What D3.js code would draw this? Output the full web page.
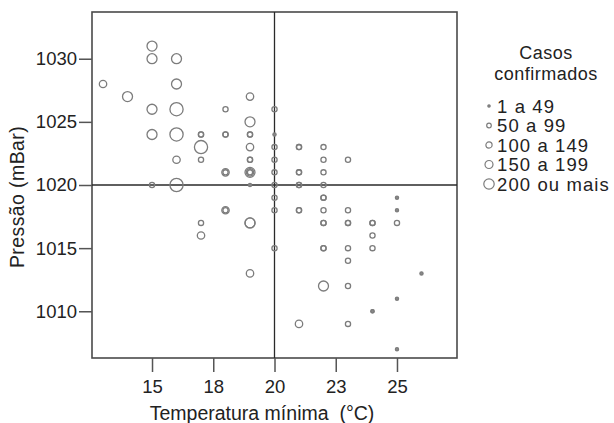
<!DOCTYPE html>
<html><head><meta charset="utf-8">
<script src="https://cdn.jsdelivr.net/npm/d3@7"></script>
<style>
html,body{margin:0;padding:0;background:#fff;}
svg{display:block;font-family:"Liberation Sans",Arial,sans-serif;}
</style></head>
<body>
<svg id="chart" width="614" height="423"></svg>
<script>
// Data: each observation = (minimum temperature, pressure, case class 1..5)
const temperature = [
  13,14,15,15,16,16,15,16,15,16,17,16,16,17,17,17,18,18,18,18,18,
  19,19,19,19,19,19,19,19,19,19,19,19,15,
  20,20,20,20,20,20,20,20,20,
  21,21,21,21,21,21,21,21,21,
  22,22,22,22,22,22,22,22,22,22,22,22,
  23,23,23,23,23,23,23,23,
  24,24,24,24,24,24,
  25,25,25,25,25,26,
  19,19,17,17,18,18
];
const pressure = [
  1028,1027,1031,1030,1030,1028,1026,1026,1024,1024,1023,1022,1020,1024,1024,1022,1026,1024,1024,1021,1021,
  1027,1025,1024,1024,1023,1022,1022,1021,1021,1021,1020,1017,1020,
  1026,1024,1023,1022,1021,1020,1019,1018,1015,
  1023,1023,1021,1021,1020,1020,1018,1009,1018,
  1023,1022,1021,1020,1019,1019,1018,1017,1017,1015,1015,1012,
  1022,1018,1017,1015,1014,1012,1009,1017,
  1017,1017,1016,1015,1010,1010,
  1019,1018,1017,1011,1007,1013,
  1013,1017,1017,1016,1018,1018
];
const caseClass = [
  3,4,4,4,4,4,4,5,4,5,5,3,5,2,2,2,2,2,2,3,2,
  3,4,2,2,3,2,2,4,3,2,1,4,2,
  2,1,2,2,2,2,2,2,2,
  2,2,2,2,2,2,2,3,2,
  2,2,2,2,2,2,2,2,2,2,2,4,
  2,2,2,2,2,2,2,2,
  2,2,2,2,1,1,
  1,1,2,1,1,1,
  3,4,2,3,3,2
];
const legendLabels = ["1 a 49","50 a 99","100 a 149","150 a 199","200 ou mais"];
const legendTitle = ["Casos","confirmados"];
const xTicks = [15,17.5,20,22.5,25];
const xTickLabels = ["15","18","20","23","25"];
const yTicks = [1010,1015,1020,1025,1030];
const refTemp = 20, refPressure = 1020;

const svg = d3.select("#chart");
const L=92, R=457, T=12, B=358;
const x = d3.scaleLinear().domain([12.55,27.45]).range([L,R]);
const y = d3.scaleLinear().domain([1006.3,1033.7]).range([B,T]);
const r = d3.scaleOrdinal().domain([1,2,3,4,5]).range([1.6,2.6,3.7,5,6.6]);
const legendR = d3.scaleOrdinal().domain([1,2,3,4,5]).range([1.2,2.3,3.1,4,5.2]);

// frame
svg.append("rect").attr("x",L).attr("y",T).attr("width",R-L).attr("height",B-T)
  .attr("fill","none").attr("stroke","#4a4a4a").attr("stroke-width",1.6);

// reference lines
svg.append("line").attr("x1",x(refTemp)).attr("x2",x(refTemp)).attr("y1",T).attr("y2",B)
  .attr("stroke","#2a2a2a").attr("stroke-width",1.3);
svg.append("line").attr("x1",L).attr("x2",R).attr("y1",y(refPressure)).attr("y2",y(refPressure))
  .attr("stroke","#2a2a2a").attr("stroke-width",1.3);

// axes
const xAxis = d3.axisBottom(x).tickValues(xTicks).tickFormat((d,i)=>xTickLabels[i]).tickSize(14).tickSizeOuter(0).tickPadding(8);
const gx = svg.append("g").attr("transform",`translate(0,${B})`).call(xAxis);
gx.select(".domain").remove();
gx.selectAll("line").attr("stroke","#555").attr("stroke-width",1.5);
gx.selectAll("text").attr("font-size",18.5).attr("fill","#222").attr("font-family","Liberation Sans, Arial, sans-serif");

const yAxis = d3.axisLeft(y).tickValues(yTicks).tickFormat(d3.format("d")).tickSize(13).tickSizeOuter(0).tickPadding(2);
const gy = svg.append("g").attr("transform",`translate(${L},0)`).call(yAxis);
gy.select(".domain").remove();
gy.selectAll("line").attr("stroke","#555").attr("stroke-width",1.5);
gy.selectAll("text").attr("font-size",18.5).attr("fill","#222").attr("font-family","Liberation Sans, Arial, sans-serif");

// axis titles
svg.append("text").attr("x",262).attr("y",420).attr("text-anchor","middle")
  .style("white-space","pre")
  .attr("font-size",19.5).attr("fill","#222").text("Temperatura mínima  (°C)");
svg.append("text").attr("transform","translate(24,197) rotate(-90)").attr("text-anchor","middle")
  .attr("font-size",19.5).attr("fill","#222").attr("letter-spacing",0.4).text("Pressão (mBar)");

// points
const pts = temperature.map((t,i)=>({t, p:pressure[i], c:caseClass[i]}));
svg.append("g").selectAll("circle").data(pts).join("circle")
  .attr("cx",d=>x(d.t)).attr("cy",d=>y(d.p)).attr("r",d=>r(d.c))
  .attr("fill",d=>d.c===1?"#8a8a8a":"none")
  .attr("stroke","#7c7c7c").attr("stroke-width",1.3);

// legend
const lg = svg.append("g");
lg.selectAll("text.title").data(legendTitle).join("text").attr("class","title")
  .attr("x",546).attr("y",(d,i)=>59+i*21).attr("text-anchor","middle")
  .attr("font-size",18).attr("letter-spacing",0.5).attr("fill","#222").text(d=>d);
const items = lg.selectAll("g.item").data(legendLabels).join("g").attr("class","item")
  .attr("transform",(d,i)=>`translate(0,${106+i*19.5})`);
items.append("circle").attr("cx",489).attr("cy",0).attr("r",(d,i)=>legendR(i+1))
  .attr("fill",(d,i)=>i===0?"#8a8a8a":"none").attr("stroke","#7c7c7c").attr("stroke-width",1.2);
items.append("text").attr("x",497).attr("y",6.5).attr("font-size",18.5).attr("letter-spacing",1.1).attr("fill","#222").text(d=>d);
</script>
</body></html>
